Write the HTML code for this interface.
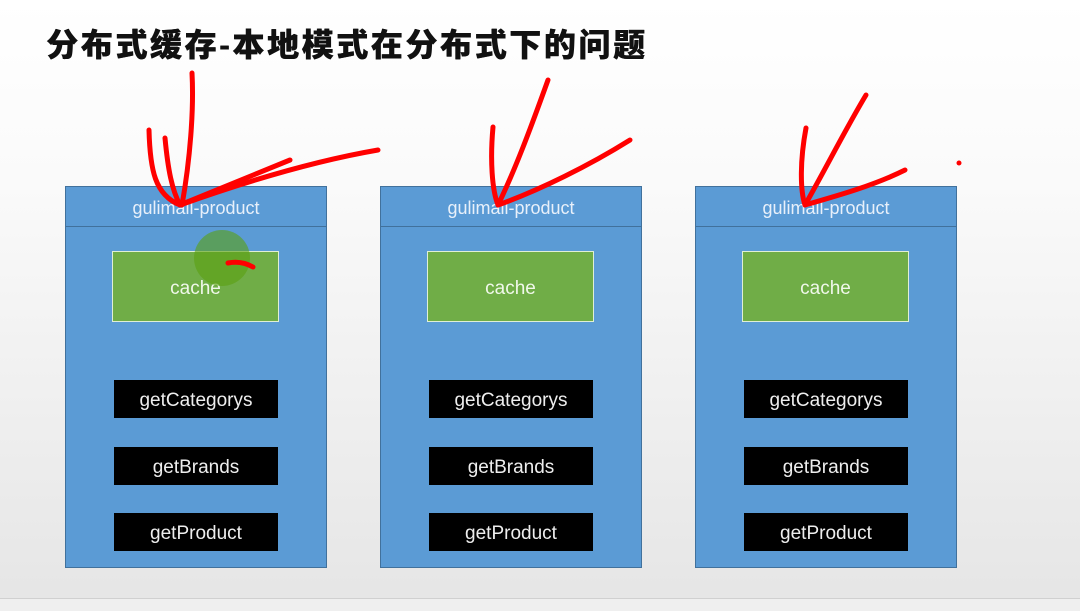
<!DOCTYPE html>
<html><head><meta charset="utf-8"><style>
body{margin:0;width:1080px;height:610px;overflow:hidden;background:linear-gradient(#fff 0%,#fafafa 30%,#e6e6e6 97%);position:relative;font-family:"Liberation Sans",Arial,sans-serif}
.bot{position:absolute;left:0;top:598px;width:1080px;height:12px;background:#efefef;border-top:1px solid #d0d0d0}
h1{position:absolute;left:46px;top:20px;margin:0;font:900 32px "Liberation Sans","Noto Sans CJK SC",sans-serif;color:#111;letter-spacing:2.6px;text-shadow:0.5px 0 0 #111}
.box{position:absolute;top:186px;width:260px;height:380px;background:#5b9bd5;border:1px solid #41719c}
.hd{height:39px;border-bottom:1px solid #41719c;color:#e8f0fa;font-size:18px;text-align:center;line-height:42px}
.cache{position:absolute;left:46px;top:64px;width:165px;height:69px;background:#70ad47;border:1px solid #e0efd6;color:#f0f8ea;font-size:19px;text-align:center;line-height:73px}
.b{position:absolute;left:48px;width:164px;height:38px;background:#000;color:#eee;font-size:19px;text-align:center;line-height:42px}
</style></head><body>
<h1>分布式缓存-本地模式在分布式下的问题</h1>
<div class="box" style="left:65px"><div class="hd">gulimall-product</div><div class="cache">cache</div><div class="b" style="top:193px">getCategorys</div><div class="b" style="top:260px">getBrands</div><div class="b" style="top:326px">getProduct</div></div>
<div class="box" style="left:380px"><div class="hd">gulimall-product</div><div class="cache">cache</div><div class="b" style="top:193px">getCategorys</div><div class="b" style="top:260px">getBrands</div><div class="b" style="top:326px">getProduct</div></div>
<div class="box" style="left:695px"><div class="hd">gulimall-product</div><div class="cache">cache</div><div class="b" style="top:193px">getCategorys</div><div class="b" style="top:260px">getBrands</div><div class="b" style="top:326px">getProduct</div></div>
<div class="bot"></div>
<svg width="1080" height="610" style="position:absolute;left:0;top:0">
<circle cx="222" cy="258" r="28" fill="#5aa010" opacity="0.6"/>
<g fill="none" stroke="#f00" stroke-width="5" stroke-linecap="round" stroke-linejoin="round">
<path d="M192 73 C194 110 190 160 182 205"/>
<path d="M149 130 C150 170 155 195 180 205 L290 160"/>
<path d="M165 138 C168 170 172 190 180 205 C250 180 320 160 378 150"/>
<path d="M228 263 C238 261 246 263 253 267"/>
<path d="M548 80 C530 130 515 170 498 205"/>
<path d="M493 127 C490 160 492 190 498 205 C540 190 590 165 630 140"/>
<path d="M866 95 C845 130 825 170 805 205"/>
<path d="M806 128 C800 160 800 190 805 205 C840 195 875 185 905 170"/>
</g>
<circle cx="959" cy="163" r="2.5" fill="#f00"/>
</svg>
</body></html>
